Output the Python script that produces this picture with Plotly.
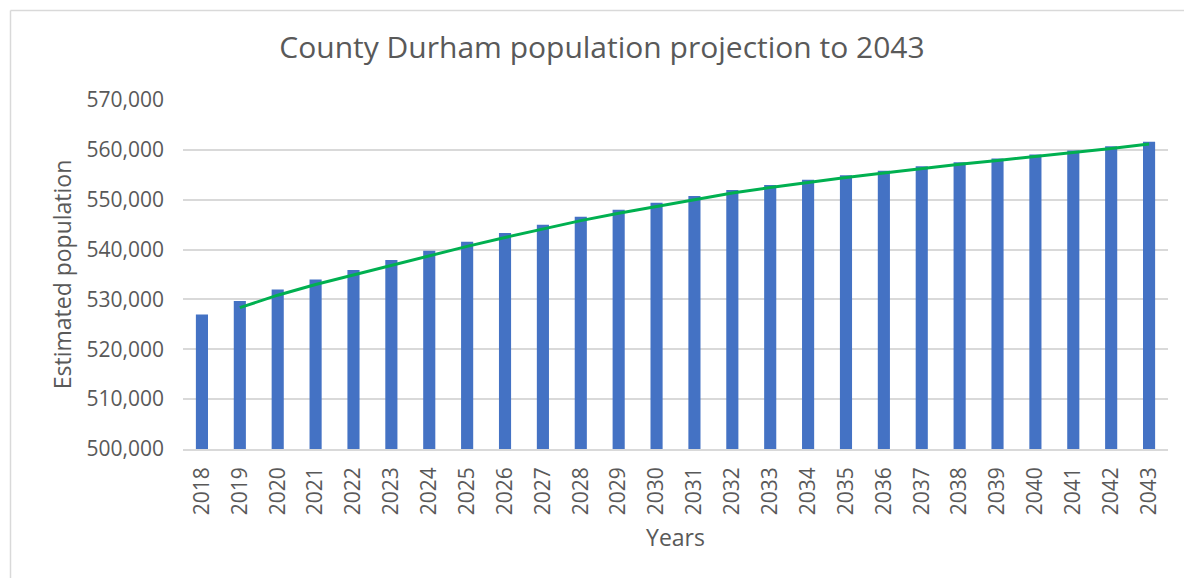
import plotly.graph_objects as go

# Projected mid-year population, County Durham
years = [str(y) for y in range(2018, 2044)]
population = [
    527000, 529700, 532000, 534000, 535900, 537900, 539750, 541550, 543300,
    545000, 546600, 548000, 549400, 550750, 551950, 552950, 554000, 554900,
    555800, 556700, 557500, 558250, 559050, 559850, 560700, 561650,
]

# Two-period moving average trendline (first point has no predecessor)
trend_years = years[1:]
trend_values = [(a + b) / 2 for a, b in zip(population[:-1], population[1:])]

y_ticks = list(range(500000, 570001, 10000))

TEXT = "#595959"
GRID = "#D9D9D9"
FONT = "Open Sans"

fig = go.Figure()
fig.add_trace(go.Bar(
    x=years, y=population,
    marker=dict(color="#4472C4", line=dict(width=0)),
    name="Population",
))
fig.add_trace(go.Scatter(
    x=trend_years, y=trend_values, mode="lines",
    line=dict(color="#00B050", width=3),
    name="2 per. Mov. Avg.",
))

W, H = 1184, 578
L, R, T, B = 183, 16, 100, 129
pw, ph = W - L - R, H - T - B

def px_x(x):
    return (x - L) / pw

def px_y(y):
    return (H - B - y) / ph

fig.update_layout(
    width=W, height=H,
    margin=dict(l=L, r=R, t=T, b=B),
    paper_bgcolor="white", plot_bgcolor="white",
    showlegend=False,
    bargap=0.68,
    font=dict(family=FONT, color=TEXT, size=21),
    title=dict(
        text="County Durham population projection to 2043",
        font=dict(family=FONT, size=30, color=TEXT),
        x=602 / W, xanchor="center",
        y=1 - 47 / H, yanchor="middle",
    ),
    xaxis=dict(
        type="category",
        tickangle=-90,
        tickfont=dict(size=21, color=TEXT),
        ticklabelstandoff=8,
        showline=True, linecolor=GRID, linewidth=1.5,
        showgrid=False, ticks="",
        title=dict(text="Years", font=dict(size=23, color=TEXT), standoff=16),
    ),
    yaxis=dict(
        range=[500000, 570000],
        tickvals=y_ticks,
        tickformat=",d",
        tickfont=dict(size=21, color=TEXT),
        ticklabelstandoff=18,
        showgrid=True, gridcolor=GRID, gridwidth=1.5,
        zeroline=False, ticks="",
        title=dict(text="Estimated population", font=dict(size=23, color=TEXT), standoff=8),
    ),
    shapes=[
        # chart frame (left and top edges)
        dict(type="line", xref="paper", yref="paper",
             x0=px_x(10.5), x1=px_x(10.5), y0=px_y(10.5), y1=px_y(600),
             line=dict(color=GRID, width=1.5)),
        dict(type="line", xref="paper", yref="paper",
             x0=px_x(10.5), x1=px_x(1200), y0=px_y(10.5), y1=px_y(10.5),
             line=dict(color=GRID, width=1.5)),
    ],
)

fig.write_html("out.html")
